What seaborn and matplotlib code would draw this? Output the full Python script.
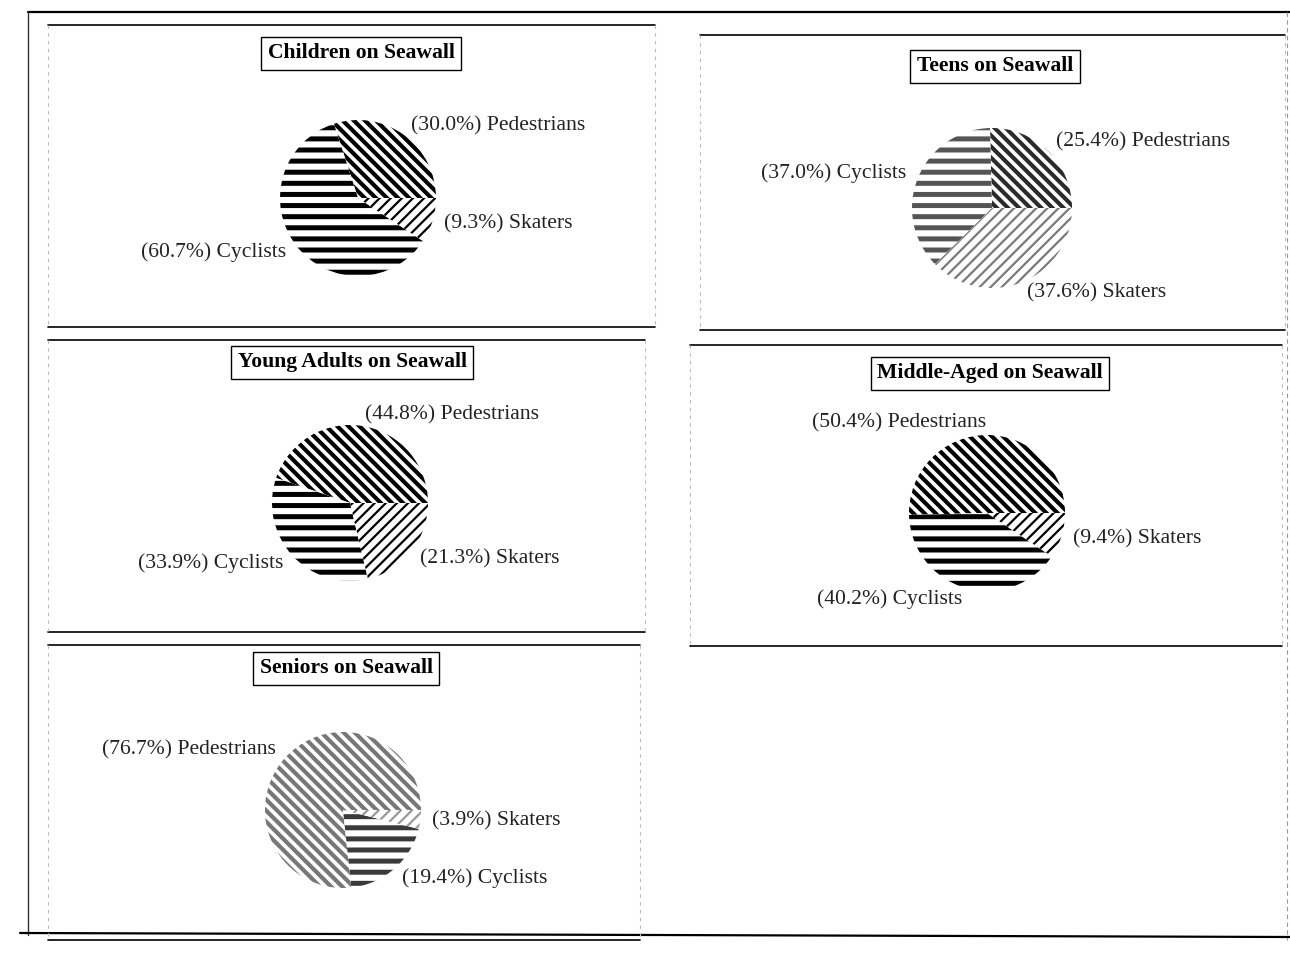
import numpy as np
import matplotlib.pyplot as plt
import seaborn as sns

# share of seawall users by age group (%)
groups = ['Children', 'Teens', 'Young Adults', 'Middle-Aged', 'Seniors']
modes = ['Pedestrians', 'Cyclists', 'Skaters']
pedestrians = [30.0, 25.4, 44.8, 50.4, 76.7]
cyclists = [60.7, 37.0, 33.9, 40.2, 19.4]
skaters = [9.3, 37.6, 21.3, 9.4, 3.9]

sns.set_theme(style='white')
plt.rcParams['font.family'] = ['Liberation Serif', 'DejaVu Serif']

W, H, DPI = 1290, 957, 200

# page layout in pixels (y measured from the top)
panels = [(48, 25, 655, 327), (700, 35, 1285, 330), (48, 340, 645, 632),
          (690, 345, 1282, 646), (48, 645, 640, 940)]
centres = [(358, 198), (992, 208), (350, 503), (987, 513), (343, 810)]
radii = [78, 80, 78, 78, 78]
title_pos = [(361, 53), (995, 66), (352, 362), (990, 373), (346, 668)]
# diagonal hatches draw half as many lines per character, so double them
hatches = ['\\' * 6, '---', '/' * 6]
hatch_lw = [1.5, 1.8, 0.8]
inks = [['black'] * 3,
        ['#2a2a2a', '#555555', '#7a7a7a'],
        ['black'] * 3,
        ['black'] * 3,
        ['#777777', '#3a3a3a', '#999999']]

fig = plt.figure(figsize=(W / DPI, H / DPI), dpi=DPI)
fig.patch.set_facecolor('white')
ax = fig.add_axes([0, 0, 1, 1])


def Y(y):
    return H - y


# outer page frame
ax.plot([28, 1290], [Y(12), Y(12)], color='black', lw=0.8)
ax.plot([28, 28], [Y(12), Y(935)], color='#333333', lw=0.5)
ax.plot([20, 1290], [Y(933), Y(937)], color='black', lw=0.8)
ax.plot([1287, 1287], [Y(12), Y(940)], color='#999999', lw=0.4, ls=(0, (4, 3)))

for i, g in enumerate(groups):
    x0, y0, x1, y1 = panels[i]
    # panel frame: solid rules top and bottom, faint dashed sides
    ax.plot([x0, x1], [Y(y0), Y(y0)], color='black', lw=0.6)
    ax.plot([x0, x1], [Y(y1), Y(y1)], color='black', lw=0.6)
    for xs in (x0, x1):
        ax.plot([xs, xs], [Y(y0), Y(y1)], color='#bbbbbb', lw=0.4, ls=(0, (3, 4)))

    vals = [pedestrians[i], cyclists[i], skaters[i]]
    labels = [f'({v:.1f}%) {m}' for v, m in zip(vals, modes)]
    cx, cy = centres[i]
    wedges, texts = ax.pie(vals, labels=labels, startangle=0, counterclock=True,
                           center=(cx, Y(cy)), radius=radii[i], labeldistance=1.15,
                           frame=True,
                           wedgeprops=dict(facecolor='white', linewidth=0),
                           textprops=dict(fontsize=7.8, color='#222222'))
    for w, t, h, c, lw in zip(wedges, texts, hatches, inks[i], hatch_lw):
        w.set_hatch(h)
        w.set_edgecolor(c)
        w.set_linewidth(0)
        if hasattr(w, 'set_hatch_linewidth'):
            w.set_hatch_linewidth(lw)
        # pie picks alignment from absolute x, so redo it relative to the centre
        mid = np.deg2rad((w.theta1 + w.theta2) / 2)
        t.set_horizontalalignment('left' if np.cos(mid) > 0 else 'right')

    tx, ty = title_pos[i]
    ax.text(tx, Y(ty), f'{g} on Seawall', ha='center', va='center',
            fontsize=7.8, fontweight='bold', color='black',
            bbox=dict(boxstyle='square,pad=0.3', facecolor='white',
                      edgecolor='black', linewidth=0.5))

ax.set_xlim(0, W)
ax.set_ylim(0, H)
ax.set_aspect('equal')
ax.set_axis_off()

fig.savefig('out.png', dpi=DPI, facecolor='white')
